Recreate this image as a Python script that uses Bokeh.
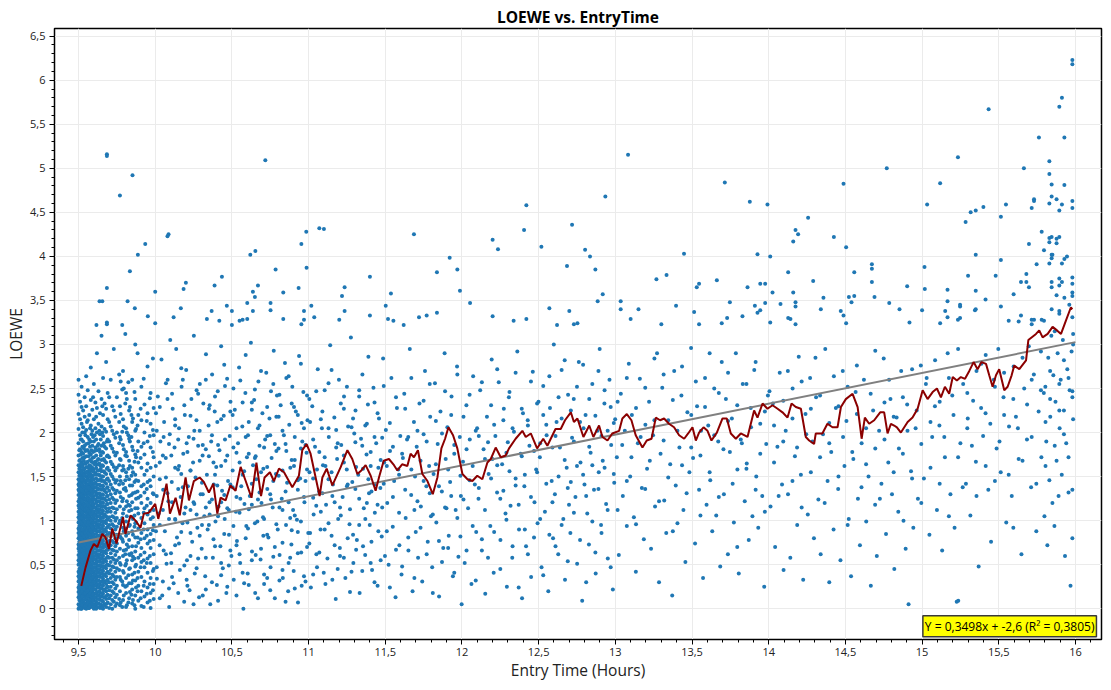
from bokeh.plotting import figure
from bokeh.models import FixedTicker, Label, Range1d
from bokeh.embed import file_html
from bokeh.resources import INLINE

# ---------------- data ----------------
# dense part of the cloud: x column -> y values
cloud_dense = {
    9.50: [0.0,0.05,0.13,0.19,0.24,0.31,0.37,0.42,0.5,0.55,0.61,0.68,0.73,0.8,0.86,0.91,0.98,1.04,1.1,1.17,1.22,1.29,1.35,1.41,1.47,1.55,1.63,1.74,1.88,2.04,2.21,2.43,2.6],
    9.51: [0.02,0.09,0.15,0.21,0.28,0.34,0.4,0.46,0.52,0.58,0.64,0.7,0.77,0.83,0.89,0.95,1.01,1.07,1.13,1.2,1.26,1.32,1.38,1.45,1.52,1.6,1.69,1.81,1.97,2.15,2.35],
    9.52: [0.0,0.07,0.11,0.17,0.26,0.32,0.39,0.44,0.51,0.57,0.63,0.69,0.75,0.82,0.87,0.94,1.0,1.06,1.12,1.18,1.25,1.31,1.37,1.43,1.5,1.57,1.66,1.78,1.92,2.1,2.29,2.52],
    9.53: [0.03,0.08,0.16,0.22,0.27,0.35,0.41,0.47,0.53,0.6,0.66,0.71,0.78,0.84,0.9,0.97,1.03,1.09,1.15,1.21,1.28,1.34,1.4,1.48,1.54,1.64,1.76,1.9,2.06,2.25],
    9.54: [0.01,0.06,0.14,0.2,0.25,0.33,0.38,0.45,0.49,0.56,0.62,0.67,0.74,0.81,0.88,0.93,0.99,1.05,1.11,1.19,1.24,1.3,1.36,1.44,1.51,1.59,1.72,1.85,2.0,2.18,2.4],
    9.55: [0.0,0.1,0.16,0.23,0.29,0.36,0.43,0.48,0.54,0.61,0.68,0.72,0.79,0.85,0.92,0.97,1.04,1.1,1.16,1.23,1.3,1.36,1.42,1.5,1.61,1.73,1.87,2.03,2.3,2.64],
    9.56: [0.04,0.09,0.18,0.24,0.31,0.37,0.44,0.51,0.57,0.63,0.7,0.76,0.82,0.89,0.95,1.01,1.08,1.14,1.21,1.27,1.34,1.41,1.48,1.56,1.67,1.8,1.95,2.14,2.48],
    9.57: [0.01,0.07,0.13,0.21,0.27,0.34,0.4,0.47,0.53,0.6,0.66,0.73,0.79,0.86,0.92,0.99,1.05,1.12,1.18,1.25,1.32,1.39,1.46,1.54,1.63,1.77,1.92,2.2],
    9.58: [0.02,0.11,0.17,0.25,0.3,0.38,0.45,0.5,0.58,0.65,0.71,0.78,0.84,0.9,0.97,1.03,1.1,1.17,1.24,1.31,1.37,1.45,1.53,1.62,1.75,1.9,2.08,2.37,2.74],
    9.59: [0.05,0.12,0.2,0.26,0.33,0.41,0.46,0.54,0.6,0.67,0.74,0.8,0.88,0.94,1.0,1.07,1.15,1.22,1.28,1.36,1.43,1.51,1.6,1.71,1.85,2.02,2.26],
    9.60: [0.0,0.09,0.17,0.26,0.35,0.42,0.51,0.6,0.68,0.77,0.85,0.93,1.02,1.1,1.19,1.28,1.37,1.47,1.58,1.72,1.9,2.15,2.55],
    9.61: [0.04,0.13,0.22,0.3,0.39,0.47,0.56,0.64,0.73,0.81,0.9,0.98,1.07,1.15,1.24,1.33,1.43,1.54,1.67,1.83,2.05,2.34],
    9.62: [0.02,0.11,0.19,0.28,0.37,0.45,0.54,0.62,0.71,0.79,0.88,0.96,1.05,1.13,1.22,1.31,1.41,1.52,1.64,1.8,2.0,2.28,2.9],
    9.63: [0.06,0.15,0.24,0.32,0.41,0.49,0.58,0.66,0.75,0.83,0.92,1.0,1.09,1.17,1.26,1.36,1.46,1.57,1.7,1.87,2.1,2.47],
    9.64: [0.01,0.1,0.18,0.27,0.36,0.44,0.53,0.61,0.7,0.78,0.87,0.95,1.04,1.12,1.21,1.3,1.4,1.51,1.63,1.78,1.98,2.22],
    9.65: [0.03,0.14,0.23,0.31,0.4,0.48,0.57,0.65,0.74,0.82,0.91,0.99,1.08,1.16,1.25,1.35,1.45,1.56,1.69,1.85,2.07,2.38,3.1],
    9.66: [0.0,0.08,0.17,0.26,0.34,0.43,0.52,0.6,0.69,0.77,0.86,0.94,1.03,1.11,1.2,1.29,1.39,1.5,1.62,1.77,1.96,2.2,2.62],
    9.67: [0.05,0.13,0.22,0.31,0.39,0.48,0.56,0.65,0.73,0.82,0.9,0.99,1.07,1.16,1.25,1.34,1.44,1.55,1.68,1.84,2.04,2.33],
    9.68: [0.02,0.11,0.2,0.28,0.37,0.46,0.54,0.63,0.71,0.8,0.88,0.97,1.05,1.14,1.23,1.32,1.42,1.53,1.66,1.82,2.01,2.27,2.8],
    9.69: [0.07,0.16,0.25,0.33,0.42,0.5,0.59,0.67,0.76,0.84,0.93,1.01,1.1,1.19,1.28,1.38,1.48,1.6,1.74,1.92,2.15,2.45],
    9.70: [0.01,0.12,0.21,0.3,0.4,0.49,0.58,0.68,0.77,0.86,0.95,1.04,1.14,1.24,1.34,1.45,1.57,1.72,1.9,2.12,2.4],
    9.71: [0.05,0.15,0.25,0.35,0.44,0.53,0.63,0.72,0.82,0.91,1.0,1.1,1.2,1.3,1.41,1.53,1.67,1.85,2.07,2.6],
    9.72: [0.0,0.1,0.2,0.3,0.39,0.48,0.58,0.67,0.77,0.86,0.96,1.05,1.15,1.26,1.37,1.5,1.64,1.82,2.02,2.3],
    9.73: [0.08,0.18,0.28,0.37,0.47,0.56,0.66,0.75,0.85,0.94,1.04,1.14,1.24,1.35,1.47,1.61,1.78,1.98,2.25,2.95],
    9.74: [0.03,0.13,0.23,0.33,0.42,0.52,0.61,0.71,0.8,0.9,1.0,1.09,1.2,1.31,1.43,1.57,1.74,1.94,2.18],
    9.75: [0.06,0.16,0.26,0.36,0.46,0.55,0.65,0.74,0.84,0.93,1.03,1.13,1.23,1.34,1.46,1.6,1.77,2.0,2.4],
    9.77: [0.04,0.2,0.36,0.52,0.68,0.84,1.0,1.16,1.32,1.5,1.7,1.95,2.3],
    9.79: [0.1,0.27,0.43,0.6,0.76,0.92,1.08,1.25,1.42,1.62,1.86,2.15,2.7],
    9.81: [0.02,0.18,0.35,0.51,0.67,0.83,0.99,1.16,1.34,1.55,1.78,2.05,2.45],
    9.83: [0.12,0.29,0.45,0.62,0.78,0.94,1.11,1.28,1.47,1.68,1.93,2.25],
    9.85: [0.06,0.22,0.39,0.55,0.71,0.88,1.04,1.21,1.4,1.6,1.84,2.12,2.6],
    9.87: [0.0,0.15,0.32,0.48,0.65,0.81,0.97,1.14,1.32,1.52,1.75,2.02,2.38,3.0],
    9.89: [0.09,0.26,0.42,0.58,0.75,0.91,1.08,1.26,1.45,1.66,1.9,2.2],
    9.91: [0.03,0.2,0.36,0.53,0.69,0.86,1.03,1.2,1.39,1.6,1.84,2.14,2.52],
    9.93: [0.14,0.31,0.47,0.64,0.8,0.97,1.14,1.32,1.52,1.75,2.0,2.32],
    9.95: [0.07,0.24,0.41,0.57,0.74,0.9,1.07,1.25,1.44,1.65,1.9,2.22,2.75],
    9.97: [0.01,0.18,0.35,0.52,0.69,0.85,1.02,1.2,1.39,1.6,1.83,2.1,2.45],
    9.99: [0.11,0.28,0.45,0.62,0.78,0.95,1.12,1.3,1.5,1.72,1.97,2.28],
}

cloud_dense_2 = {
    9.505: [0.03,0.1,0.16,0.22,0.27,0.34,0.4,0.45,0.53,0.58,0.65,0.71,0.76,0.83,0.89,0.94,1.01,1.07,1.14,1.2,1.25,1.33,1.39,1.44,1.51,1.59,1.68,1.8],
    9.515: [0.0,0.06,0.12,0.18,0.24,0.31,0.37,0.43,0.49,0.55,0.61,0.67,0.73,0.8,0.86,0.92,0.98,1.04,1.1,1.16,1.23,1.29,1.35,1.41,1.48,1.56,1.64,1.75,1.92],
    9.525: [0.04,0.09,0.14,0.2,0.29,0.35,0.42,0.47,0.54,0.59,0.66,0.72,0.78,0.85,0.9,0.96,1.03,1.09,1.15,1.22,1.27,1.34,1.4,1.46,1.53,1.61,1.71,1.84,2.0],
    9.535: [0.02,0.1,0.17,0.23,0.3,0.36,0.44,0.5,0.56,0.63,0.69,0.75,0.82,0.87,0.95,1.0,1.06,1.13,1.18,1.26,1.32,1.38,1.44,1.52,1.58,1.68,1.82],
    9.545: [0.03,0.12,0.18,0.26,0.33,0.39,0.46,0.52,0.59,0.65,0.73,0.78,0.86,0.91,0.98,1.05,1.12,1.17,1.25,1.31,1.39,1.46,1.55,1.65,1.79,1.97],
    9.555: [0.06,0.13,0.2,0.27,0.33,0.4,0.46,0.52,0.58,0.65,0.7,0.77,0.83,0.9,0.95,1.02,1.08,1.14,1.2,1.27,1.33,1.4,1.46,1.54,1.66,1.8,2.12],
    9.565: [0.01,0.07,0.15,0.21,0.28,0.34,0.41,0.48,0.54,0.6,0.67,0.73,0.79,0.86,0.92,0.98,1.05,1.11,1.17,1.24,1.31,1.38,1.45,1.52,1.6,1.73,1.88],
    9.575: [0.04,0.1,0.17,0.24,0.31,0.37,0.44,0.5,0.57,0.63,0.7,0.76,0.83,0.89,0.95,1.02,1.08,1.15,1.22,1.29,1.35,1.42,1.5,1.58,1.69,1.84,2.05],
    9.585: [0.07,0.14,0.21,0.28,0.35,0.42,0.48,0.55,0.61,0.68,0.75,0.81,0.87,0.94,1.0,1.07,1.14,1.21,1.28,1.34,1.41,1.49,1.57,1.67,1.8,1.98],
    9.595: [0.02,0.09,0.16,0.23,0.3,0.37,0.44,0.51,0.57,0.64,0.71,0.77,0.84,0.91,0.97,1.04,1.11,1.18,1.25,1.32,1.39,1.47,1.56,1.66,1.78,1.95,2.4],
    9.605: [0.05,0.13,0.22,0.31,0.39,0.47,0.56,0.64,0.73,0.81,0.89,0.98,1.06,1.15,1.24,1.33,1.42,1.52,1.64,1.79,1.97],
    9.615: [0.0,0.08,0.17,0.26,0.34,0.43,0.51,0.6,0.68,0.77,0.85,0.94,1.02,1.11,1.2,1.29,1.38,1.48,1.6,1.74,1.92,2.18],
    9.625: [0.06,0.15,0.24,0.32,0.41,0.49,0.58,0.66,0.75,0.83,0.92,1.0,1.09,1.17,1.27,1.36,1.46,1.57,1.69,1.85],
    9.635: [0.02,0.11,0.2,0.28,0.37,0.45,0.54,0.62,0.71,0.79,0.88,0.96,1.05,1.13,1.22,1.31,1.41,1.52,1.65,1.81,2.02],
    9.645: [0.05,0.14,0.23,0.31,0.4,0.49,0.57,0.66,0.74,0.83,0.91,1.0,1.08,1.17,1.26,1.36,1.47,1.59,1.74,1.92],
    9.655: [0.01,0.09,0.18,0.27,0.36,0.44,0.53,0.61,0.7,0.78,0.87,0.95,1.04,1.12,1.21,1.3,1.4,1.5,1.63,1.78,2.0,2.3],
    9.665: [0.04,0.13,0.21,0.3,0.39,0.47,0.56,0.64,0.73,0.81,0.9,0.98,1.07,1.16,1.25,1.35,1.45,1.56,1.7,1.88],
    9.685: [0.06,0.15,0.24,0.32,0.41,0.5,0.58,0.67,0.75,0.84,0.92,1.01,1.1,1.19,1.28,1.37,1.47,1.59,1.73,1.9],
    9.765: [0.11,0.44,0.58,0.97,1.41,1.63,1.88,2.12,2.66],
    9.775: [0.07,0.33,0.5,0.81,0.99,1.27,1.45,1.69,1.92,2.21,2.58],
    9.785: [0.02,0.31,0.79,1.03,1.22,1.57,2.01,2.49],
    9.795: [0.15,0.41,0.66,0.88,1.13,1.36,1.58,1.81,2.07,2.5],
    9.805: [0.25,0.49,0.62,0.91,1.37,1.46,1.74,2.33,3.12],
    9.815: [0.04,0.26,0.55,0.73,1.05,1.22,1.5,1.73,2.0,2.38],
    9.825: [0.07,0.38,0.7,0.86,1.18,1.59,1.97,2.57],
    9.835: [0.19,0.46,0.61,0.95,1.17,1.4,1.62,1.9,2.29],
    9.845: [0.16,0.29,0.63,1.12,1.29,1.51,1.95,2.2],
    9.855: [0.1,0.32,0.59,0.84,1.02,1.31,1.55,1.8,2.16],
    9.865: [0.04,0.41,0.57,0.93,1.06,1.44,1.67,2.46],
    9.875: [0.24,0.5,0.71,0.98,1.25,1.46,1.72,2.04],
    9.885: [0.2,0.35,0.81,1.14,1.33,1.79,2.08,2.9],
    9.905: [0.12,0.47,0.61,0.79,1.28,1.71,2.27],
    9.925: [0.02,0.26,0.55,0.9,1.09,1.41,1.88,2.61],
    9.945: [0.17,0.52,0.83,1.17,1.36,1.57,2.13],
    9.965: [0.09,0.28,0.6,0.77,1.11,1.46,1.96,2.39],
    9.985: [0.21,0.43,0.89,1.04,1.31,1.78,2.03,2.84],
}

cloud_cols_10_13 = {
    10.01: [0.47,1.28,2.02], 10.03: [0.95,1.66,2.29], 10.05: [0.31,1.12,1.74], 10.07: [0.62,1.49,2.56], 10.09: [1.02,1.87,0.23],
    10.11: [0.36,1.21,2.44], 10.13: [0.72,1.6,2.08], 10.15: [0.18,1.36,1.92], 10.17: [0.87,1.53,2.73], 10.19: [0.49,1.08,2.31],
    10.21: [0.26,0.98,1.78], 10.23: [0.6,1.57,2.19], 10.25: [1.21,1.93,0.05], 10.27: [0.46,1.07,2.48], 10.29: [0.83,1.68,2.02],
    10.31: [0.15,1.3,1.86], 10.33: [0.58,1.15,2.6], 10.35: [0.95,1.73,2.27], 10.37: [0.3,1.24,1.97], 10.39: [0.71,1.52,2.41],
    10.41: [0.09,1.05,1.86], 10.43: [0.52,1.62,2.15], 10.45: [0.85,1.29,2.77], 10.47: [0.25,1.14,1.74], 10.49: [0.66,1.41,2.24],
    10.51: [0.94,1.83,2.5], 10.53: [0.15,1.27,2.05], 10.55: [0.62,1.09,1.66], 10.57: [0.41,1.52,2.34], 10.59: [0.8,1.95,2.88],
    10.61: [0.27,1.13,1.76], 10.63: [0.55,1.42,2.26], 10.65: [0.97,1.71,2.49], 10.67: [0.12,1.24,2.05], 10.69: [0.68,1.55,2.7],
    10.71: [0.39,1.02,1.83], 10.73: [0.84,1.61,2.29], 10.75: [0.21,1.3,1.97], 10.77: [0.59,1.45,2.55], 10.79: [0.96,1.79,2.18],
    10.81: [0.32,1.15,2.43], 10.83: [0.75,1.57,2.02], 10.85: [0.08,1.33,1.87], 10.87: [0.52,1.21,2.64], 10.89: [0.89,1.69,2.33],
    10.91: [0.23,1.06,1.95], 10.93: [0.63,1.46,2.2], 10.95: [0.99,1.82,2.78], 10.97: [0.37,1.27,2.05], 10.99: [0.7,1.58,2.42],
    11.01: [0.86,2.12], 11.03: [1.48,0.39], 11.05: [1.17,2.47], 11.07: [0.64,1.78], 11.09: [1.31,2.24],
    11.11: [0.28,1.62], 11.13: [0.97,2.05], 11.15: [1.55,2.71], 11.17: [0.72,1.21], 11.19: [1.88,0.45],
    11.21: [1.06,2.33], 11.23: [0.58,1.74], 11.25: [1.39,2.52], 11.27: [0.19,1.13], 11.29: [0.84,2.16],
    11.31: [1.61,0.67], 11.33: [1.25,2.41], 11.35: [0.43,1.85], 11.37: [1.02,2.08], 11.39: [1.47,2.86],
    11.41: [0.76,1.33], 11.43: [1.95,0.3], 11.45: [1.18,2.22], 11.47: [0.55,1.69], 11.49: [1.42,2.53],
    11.51: [0.88,1.62], 11.53: [0.24,2.11], 11.55: [1.27,1.84], 11.57: [0.67,2.4], 11.59: [1.09,1.52],
    11.61: [1.76,0.48], 11.63: [1.35,2.27], 11.65: [0.81,1.95], 11.67: [1.58,2.62], 11.69: [0.35,1.12],
    11.71: [1.22,2.02], 11.73: [0.92,1.68], 11.75: [1.45,2.36], 11.77: [0.62,1.9], 11.79: [1.31,2.55],
    11.81: [0.18,1.07], 11.83: [1.64,2.13], 11.85: [0.77,1.39], 11.87: [1.99,0.53], 11.89: [1.15,2.47],
    11.91: [0.69,1.58], 11.93: [1.28,2.2], 11.95: [0.41,1.86], 11.97: [1.03,2.66], 11.99: [1.51,0.82],
    12.01: [1.24,2.18], 12.03: [0.66,1.81], 12.05: [1.46,2.43], 12.07: [0.94,1.62], 12.09: [0.32,2.02],
    12.11: [1.37,1.96], 12.13: [0.79,2.57], 12.15: [1.12,1.7], 12.17: [1.89,0.58], 12.19: [1.48,2.31],
    12.21: [0.87,2.09], 12.23: [1.63,2.72], 12.25: [0.45,1.25], 12.27: [1.34,2.14], 12.29: [1.01,1.77],
    12.31: [1.56,2.46], 12.33: [0.71,2.05], 12.35: [1.4,2.68], 12.37: [0.24,1.18], 12.39: [1.73,2.27],
    12.41: [0.9,1.52], 12.43: [2.08,0.62], 12.45: [1.27,2.58], 12.47: [0.81,1.79], 12.49: [1.55,2.33],
    12.51: [1.02,1.88], 12.53: [0.38,2.2], 12.55: [1.42,2.09], 12.57: [0.84,2.64], 12.59: [1.21,1.83],
    12.61: [1.96,0.71], 12.63: [1.5,2.4], 12.65: [0.95,2.16], 12.67: [1.69,2.82], 12.69: [0.54,1.37],
    12.71: [1.44,2.25], 12.73: [1.09,1.9], 12.75: [1.62,2.52], 12.77: [0.78,2.12], 12.79: [1.52,2.77],
    12.81: [0.3,1.28], 12.83: [1.84,2.38], 12.85: [0.99,1.63], 12.87: [2.19,0.64], 12.89: [1.36,2.7],
    12.91: [0.86,1.96], 12.93: [1.6,2.48], 12.95: [1.12,2.02], 12.97: [0.47,2.29], 12.99: [1.53,2.11],
}

cloud_cols_10_11b = {
    10.005: [0.88,2.22], 10.030: [0.12,1.47], 10.055: [1.95,0.66], 10.080: [1.31,2.38], 10.105: [0.52,1.74],
    10.130: [2.15,1.02], 10.155: [0.74,1.62], 10.180: [1.38,2.6], 10.205: [0.33,1.88], 10.230: [1.57,0.86],
    10.255: [2.02,1.19], 10.280: [0.57,2.44], 10.305: [1.43,0.95], 10.330: [1.81,0.22], 10.355: [1.07,2.31],
    10.380: [0.79,1.66], 10.405: [2.12,1.4], 10.430: [0.38,1.21], 10.455: [1.92,2.53], 10.480: [1.12,0.49],
    10.505: [2.2,1.38], 10.530: [0.72,1.77], 10.555: [1.25,2.59], 10.580: [0.29,1.56], 10.605: [1.97,0.91],
    10.630: [1.18,2.34], 10.655: [0.61,1.73], 10.680: [2.08,1.32], 10.705: [0.83,1.59], 10.730: [1.96,0.35],
    10.755: [1.24,2.47], 10.780: [0.7,1.87], 10.805: [1.51,2.18], 10.830: [0.44,1.12], 10.855: [1.79,2.62],
    10.880: [1.03,0.58], 10.905: [1.62,2.29], 10.930: [0.87,1.35], 10.955: [2.11,0.26], 10.980: [1.45,1.86],
    11.005: [0.74,2.38], 11.030: [1.26,1.92], 11.055: [0.47,1.58], 11.080: [2.15,1.1], 11.105: [0.9,1.72],
    11.130: [1.47,2.56], 11.155: [0.33,1.28], 11.180: [1.83,2.03], 11.205: [1.15,0.6], 11.230: [1.66,2.27],
    11.255: [0.8,1.41], 11.280: [2.06,0.42], 11.305: [1.36,1.89], 11.330: [0.95,2.48], 11.355: [1.59,0.71],
    11.380: [1.2,2.1], 11.405: [0.52,1.78], 11.430: [1.41,2.34], 11.455: [0.88,1.6], 11.480: [1.94,1.15],
}

cloud_cols_13_16 = {
    13.015: [2.35,1.12], 13.045: [1.86], 13.075: [2.62,1.45], 13.105: [1.72], 13.135: [2.28,0.96],
    13.165: [1.95], 13.195: [2.51,1.36], 13.225: [1.68], 13.255: [2.14,2.84], 13.285: [1.22],
    13.315: [1.91,2.66], 13.345: [1.49], 13.375: [2.37,0.88], 13.405: [2.02], 13.435: [1.63,2.75],
    13.465: [1.31], 13.495: [2.2,1.83], 13.525: [2.58], 13.555: [1.06,1.74], 13.585: [2.29],
    13.615: [1.55,2.9], 13.645: [1.97], 13.675: [2.45,1.27], 13.705: [1.81], 13.735: [2.13,2.68],
    13.765: [1.42], 13.795: [2.31,0.7], 13.825: [1.88], 13.855: [2.55,1.59], 13.885: [2.06],
    13.915: [1.35,2.8], 13.945: [1.76], 13.975: [2.24,1.1], 14.005: [2.47], 14.035: [1.66,2.08],
    14.065: [1.28], 14.095: [2.36,1.9], 14.125: [2.7], 14.155: [1.45,2.16], 14.185: [1.83],
    14.215: [2.58,1.15], 14.245: [1.98], 14.275: [2.27,1.55], 14.305: [2.85], 14.335: [1.72,2.42],
    14.365: [1.2], 14.395: [2.11,1.88], 14.425: [2.64], 14.455: [1.5,2.3], 14.485: [1.95],
    14.515: [2.52,0.95], 14.545: [1.78], 14.575: [2.21,2.76], 14.605: [1.38], 14.635: [2.05,1.64],
    14.665: [2.44], 14.695: [1.82,2.93], 14.725: [1.25], 14.755: [2.34,1.92], 14.785: [2.6],
    14.815: [1.55,2.18], 14.845: [1.1], 14.875: [2.4,1.76], 14.905: [2.02], 14.935: [1.48,2.72],
    14.965: [2.25], 14.995: [1.87,1.2], 15.025: [2.55], 15.055: [2.12,1.6], 15.085: [2.82],
    15.115: [1.42,2.35], 15.145: [1.95], 15.175: [2.62,1.05], 15.205: [2.2], 15.235: [1.72,2.95],
    15.265: [1.38], 15.295: [2.45,2.05], 15.325: [1.85], 15.355: [2.7,1.28], 15.385: [2.28],
    15.415: [1.62,2.88], 15.445: [2.1], 15.475: [2.52,1.45], 15.505: [1.9], 15.535: [2.68,2.2],
    15.565: [1.52], 15.595: [2.38,0.92], 15.625: [2.05], 15.655: [2.85,1.68], 15.685: [2.32],
    15.715: [1.95,2.6], 15.745: [1.42], 15.775: [2.48,2.92], 15.805: [2.12,1.62], 15.835: [2.7,2.38],
    15.865: [1.85,3.15], 15.895: [2.55,2.25], 15.925: [1.98,2.82], 15.955: [2.62,1.72], 15.985: [2.15,3.0,3.12],
}

cloud_10_11 = [
    (10.004,1.62),(10.011,0.34),(10.017,2.41),(10.023,1.08),(10.029,0.72),(10.034,1.9),(10.041,2.83),(10.046,0.15),(10.052,1.35),(10.058,2.12),(10.063,0.88),(10.069,1.71),(10.074,0.51),(10.081,2.6),(10.086,1.22),(10.091,0.02),(10.095,1.98),(10.098,3.05),
    (10.103,0.63),(10.108,1.44),(10.114,2.27),(10.12,0.29),(10.126,1.83),(10.131,1.01),(10.137,2.95),(10.142,0.81),(10.149,1.58),(10.155,2.05),(10.161,0.44),(10.166,1.27),(10.172,2.52),(10.178,0.97),(10.183,1.76),(10.189,0.08),(10.193,2.2),(10.198,1.15),
    (10.202,2.71),(10.207,0.55),(10.213,1.39),(10.219,1.95),(10.224,0.21),(10.23,1.12),(10.236,2.38),(10.241,0.76),(10.247,1.66),(10.252,3.1),(10.258,0.4),(10.263,1.49),(10.269,2.14),(10.275,0.92),(10.28,1.85),(10.286,0.13),(10.291,2.55),(10.296,1.3),
    (10.303,0.68),(10.309,1.74),(10.314,2.33),(10.32,1.05),(10.326,0.37),(10.331,2.89),(10.337,1.52),(10.342,0.9),(10.348,2.08),(10.354,1.21),(10.359,0.05),(10.365,1.9),(10.371,2.66),(10.376,0.58),(10.382,1.41),(10.388,2.24),(10.393,0.99),(10.398,1.61),
    (10.402,0.27),(10.408,2.47),(10.413,1.16),(10.419,1.8),(10.425,0.71),(10.43,2.98),(10.436,1.34),(10.441,0.46),(10.447,2.19),(10.453,1.02),(10.458,1.68),(10.464,0.18),(10.469,2.61),(10.475,1.45),(10.481,0.84),(10.486,1.96),(10.491,2.35),(10.497,0.6),
    (10.505,1.57),(10.512,0.33),(10.519,2.26),(10.526,1.1),(10.533,0.77),(10.54,1.88),(10.547,2.74),(10.554,0.52),(10.561,1.39),(10.568,2.07),(10.575,0.0),(10.582,1.19),(10.588,2.45),(10.594,0.94),(10.598,1.72),
    (10.603,0.4),(10.61,2.12),(10.617,1.28),(10.624,3.02),(10.631,0.65),(10.638,1.63),(10.645,2.37),(10.652,0.18),(10.659,1.47),(10.666,0.99),(10.673,2.58),(10.68,1.85),(10.687,0.56),(10.693,1.2),(10.699,2.22),
    (10.703,1.04),(10.71,0.28),(10.717,1.92),(10.724,2.68),(10.731,1.36),(10.738,0.81),(10.745,2.16),(10.752,0.47),(10.759,1.71),(10.766,1.15),(10.773,2.93),(10.78,0.12),(10.787,1.53),(10.794,2.42),(10.799,0.9),
    (10.804,1.82),(10.811,0.61),(10.818,2.31),(10.825,1.25),(10.832,0.35),(10.839,1.97),(10.846,2.79),(10.853,0.95),(10.86,1.43),(10.867,0.2),(10.874,2.09),(10.881,1.6),(10.888,0.73),(10.894,2.52),(10.899,1.12),
    (10.903,0.43),(10.91,1.69),(10.917,2.24),(10.924,1.01),(10.931,0.07),(10.938,2.87),(10.945,1.48),(10.952,0.64),(10.959,1.9),(10.966,2.46),(10.973,1.21),(10.98,0.31),(10.987,1.77),(10.993,2.14),(10.998,0.86),
]

cloud_11_13 = [
    (11.006,1.55),(11.015,0.24),(11.024,2.3),(11.033,1.07),(11.042,1.84),(11.051,0.62),(11.06,2.72),(11.069,1.33),(11.078,0.9),(11.087,2.05),(11.094,1.63),(11.099,0.41),
    (11.105,2.48),(11.114,1.18),(11.123,0.57),(11.132,1.95),(11.141,2.99),(11.15,0.83),(11.159,1.41),(11.168,2.17),(11.177,0.11),(11.186,1.7),(11.193,1.02),(11.198,2.6),
    (11.204,0.69),(11.213,1.86),(11.222,1.27),(11.231,2.41),(11.24,0.35),(11.249,1.58),(11.258,2.07),(11.267,0.96),(11.276,3.08),(11.285,1.44),(11.292,0.52),(11.298,1.99),
    (11.306,2.25),(11.315,0.78),(11.324,1.52),(11.333,0.18),(11.342,1.93),(11.351,2.66),(11.36,1.14),(11.369,0.61),(11.378,1.75),(11.387,2.32),(11.394,1.31),(11.399,0.95),
    (11.405,1.62),(11.414,0.44),(11.423,2.51),(11.432,1.09),(11.441,1.88),(11.45,0.26),(11.459,2.16),(11.468,1.37),(11.477,0.82),(11.486,2.84),(11.493,1.66),(11.498,0.6),
    (11.504,2.03),(11.513,1.2),(11.522,0.5),(11.531,1.79),(11.54,2.62),(11.549,0.93),(11.558,1.45),(11.567,0.13),(11.576,2.28),(11.585,1.58),(11.592,0.72),(11.598,1.96),
    (11.606,0.39),(11.615,1.71),(11.624,2.44),(11.633,1.03),(11.642,1.92),(11.651,0.66),(11.66,2.95),(11.669,1.29),(11.678,0.2),(11.687,2.12),(11.694,1.5),(11.699,0.87),
    (11.705,1.84),(11.714,0.58),(11.723,2.33),(11.732,1.16),(11.741,0.31),(11.75,1.98),(11.759,2.7),(11.768,1.39),(11.777,0.76),(11.786,1.62),(11.793,2.18),(11.798,1.05),
    (11.806,0.47),(11.815,1.53),(11.824,2.56),(11.833,0.98),(11.842,1.87),(11.851,0.14),(11.86,2.24),(11.869,1.33),(11.878,0.69),(11.887,2.9),(11.894,1.7),(11.899,1.14),
    (11.905,2.06),(11.914,0.83),(11.923,1.44),(11.932,2.41),(11.941,0.37),(11.95,1.76),(11.959,1.12),(11.968,2.75),(11.977,0.59),(11.986,1.95),(11.993,1.28),(11.998,0.05),
    (12.007,1.67),(12.018,0.52),(12.029,2.31),(12.04,1.14),(12.051,1.92),(12.062,0.28),(12.073,2.64),(12.084,1.41),(12.093,0.87),(12.099,2.05),
    (12.108,1.25),(12.119,2.48),(12.13,0.66),(12.141,1.81),(12.152,0.17),(12.163,2.18),(12.174,1.53),(12.185,0.94),(12.194,2.83),(12.199,1.7),
    (12.207,0.41),(12.218,1.96),(12.229,1.32),(12.24,2.57),(12.251,0.78),(12.262,1.64),(12.273,2.27),(12.284,1.08),(12.293,0.25),(12.299,1.89),
    (12.306,2.4),(12.317,1.17),(12.328,0.58),(12.339,2.01),(12.35,1.48),(12.361,2.92),(12.372,0.9),(12.383,1.76),(12.392,0.12),(12.398,2.22),
    (12.407,1.39),(12.418,0.71),(12.429,2.14),(12.44,1.85),(12.451,0.36),(12.462,2.69),(12.473,1.21),(12.484,1.58),(12.493,0.97),(12.499,2.35),
    (12.508,1.72),(12.519,0.47),(12.53,2.53),(12.541,1.1),(12.552,1.97),(12.563,0.2),(12.574,2.28),(12.585,1.45),(12.594,0.8),(12.599,3.0),
    (12.606,1.3),(12.617,2.12),(12.628,0.62),(12.639,1.83),(12.65,2.71),(12.661,1.02),(12.672,0.33),(12.683,1.6),(12.692,2.43),(12.698,1.18),
    (12.707,0.86),(12.718,1.94),(12.729,2.38),(12.74,1.27),(12.751,0.51),(12.762,2.8),(12.773,1.66),(12.784,0.09),(12.793,2.05),(12.799,1.41),
    (12.806,2.2),(12.817,1.08),(12.828,0.73),(12.839,1.77),(12.85,2.55),(12.861,1.35),(12.872,0.4),(12.883,2.02),(12.892,1.55),(12.898,2.95),
    (12.907,0.95),(12.918,1.68),(12.929,2.33),(12.94,1.19),(12.951,0.57),(12.962,2.6),(12.973,1.86),(12.984,0.22),(12.993,1.43),(12.999,2.15),
]

cloud_13_16 = [
    (13.01,1.72),(13.023,0.61),(13.036,2.44),(13.049,1.28),(13.062,2.02),(13.075,0.94),(13.088,2.78),(13.097,1.5),
    (13.108,2.2),(13.121,1.04),(13.134,0.42),(13.147,1.88),(13.16,2.61),(13.173,1.37),(13.186,0.79),(13.196,2.09),
    (13.207,1.59),(13.22,2.35),(13.233,0.68),(13.246,1.97),(13.259,1.16),(13.272,2.9),(13.285,0.3),(13.295,1.76),
    (13.306,2.51),(13.319,1.23),(13.332,0.86),(13.345,2.14),(13.358,1.64),(13.371,0.15),(13.384,2.7),(13.394,1.4),
    (13.405,0.97),(13.418,1.83),(13.431,2.42),(13.444,1.12),(13.457,0.53),(13.47,2.23),(13.483,1.55),(13.494,2.96),
    (13.507,1.71),(13.52,0.74),(13.533,2.3),(13.546,1.35),(13.559,2.02),(13.572,0.35),(13.585,2.62),(13.595,1.18),
    (13.606,2.08),(13.619,1.46),(13.632,0.88),(13.645,2.5),(13.658,1.06),(13.671,1.9),(13.684,0.48),(13.694,2.8),
    (13.708,1.3),(13.721,2.38),(13.734,0.62),(13.747,1.78),(13.76,2.16),(13.773,0.98),(13.786,2.9),(13.796,1.58),
    (13.805,0.4),(13.818,1.92),(13.831,2.55),(13.844,1.22),(13.857,1.65),(13.87,0.78),(13.883,2.28),(13.894,1.05),
    (13.906,2.71),(13.919,1.5),(13.932,0.92),(13.945,2.1),(13.958,1.28),(13.971,0.25),(13.984,1.87),(13.995,2.42),
    (14.012,1.16),(14.027,2.33),(14.042,0.7),(14.057,1.84),(14.072,2.68),(14.087,1.41),(14.097,0.44),
    (14.111,2.02),(14.126,1.3),(14.141,0.58),(14.156,2.5),(14.171,1.73),(14.186,0.95),(14.196,2.86),
    (14.21,1.52),(14.225,0.33),(14.24,2.21),(14.255,1.07),(14.27,2.62),(14.285,1.9),(14.295,0.8),
    (14.309,2.4),(14.324,1.24),(14.339,0.62),(14.354,1.98),(14.369,2.95),(14.384,1.45),(14.395,0.3),
    (14.408,1.78),(14.423,0.9),(14.438,2.28),(14.453,1.36),(14.468,0.55),(14.483,2.7),(14.494,1.62),
    (14.507,2.13),(14.522,1.02),(14.537,0.37),(14.552,1.7),(14.567,2.46),(14.582,1.25),(14.595,0.72),
    (14.606,1.88),(14.621,2.6),(14.636,0.99),(14.651,1.5),(14.666,0.26),(14.681,2.25),(14.694,1.18),
    (14.705,0.6),(14.72,2.02),(14.735,1.42),(14.75,2.84),(14.765,0.85),(14.78,1.66),(14.794,2.38),
    (14.804,1.3),(14.819,0.45),(14.834,2.17),(14.849,1.82),(14.864,2.7),(14.879,1.0),(14.893,0.68),
    (14.903,2.32),(14.912,0.05),(14.928,1.56),(14.943,0.92),(14.958,2.05),(14.973,1.25),(14.992,2.76),
    (15.012,1.48),(15.03,2.62),(15.048,0.84),(15.066,1.95),(15.084,2.3),(15.097,1.12),
    (15.113,2.08),(15.131,0.66),(15.149,1.72),(15.167,2.9),(15.185,1.3),(15.197,2.42),
    (15.212,0.92),(15.226,0.08),(15.236,0.09),(15.25,1.88),(15.268,2.55),(15.286,1.42),(15.298,2.16),
    (15.315,1.06),(15.333,2.36),(15.351,1.67),(15.369,0.48),(15.387,2.78),(15.398,1.96),
    (15.414,2.22),(15.432,1.35),(15.45,0.76),(15.468,2.6),(15.486,1.82),(15.497,2.95),
    (15.513,1.55),(15.531,2.4),(15.549,0.98),(15.567,2.07),(15.585,1.28),(15.597,2.75),
    (15.612,2.18),(15.63,1.7),(15.648,0.62),(15.666,2.5),(15.684,1.92),(15.696,2.98),
    (15.711,1.38),(15.729,2.66),(15.745,0.88),(15.76,2.24),(15.778,1.72),(15.794,2.45),(15.798,1.05),
    (15.804,2.52),(15.81,1.9),(15.817,0.72),(15.823,2.85),(15.83,1.46),(15.836,2.18),(15.843,3.1),(15.85,1.2),(15.856,2.65),(15.863,0.94),(15.87,2.35),(15.877,1.68),(15.884,2.9),(15.89,1.28),(15.897,2.05),
    (15.904,2.6),(15.911,1.52),(15.918,3.05),(15.925,2.25),(15.932,0.6),(15.94,1.88),(15.947,2.72),(15.955,1.32),(15.962,2.48),(15.968,0.26),(15.975,2.92),(15.98,0.8),(15.98,1.35),(15.98,2.4),(15.98,2.47),
]

cloud_high_left = [
    (9.685,5.16),(9.685,5.14),(9.852,4.92),(9.77,4.69),(10.718,5.09),(12.42,4.58),(12.718,4.36),(11.07,4.32),(11.10,4.31),(10.985,4.28),
    (11.687,4.25),(10.087,4.25),(10.08,4.23),(12.20,4.19),(12.405,4.30),(12.235,4.08),(12.518,4.11),(10.953,4.14),(9.935,4.14),(10.653,4.06),
    (10.62,4.02),(9.887,4.02),(11.92,3.985),(12.685,3.89),(11.97,3.85),(10.987,3.87),(10.785,3.85),(9.835,3.83),(11.837,3.82),(10.435,3.77),
    (11.40,3.77),(9.685,3.64),(10.20,3.70),(10.387,3.67),(10.67,3.67),(11.235,3.65),(10.185,3.63),(10.935,3.64),(11.987,3.61),(10.0,3.60),
    (10.835,3.59),(10.637,3.60),(11.537,3.58),(11.218,3.55),(10.65,3.54),(9.637,3.49),(9.655,3.49),(9.82,3.49),(12.053,3.47),(10.60,3.47),
    (10.752,3.47),(11.503,3.44),(11.018,3.44),(10.467,3.44),(9.867,3.41),(10.167,3.41),(12.57,3.41),(10.752,3.39),(10.50,3.38),(10.368,3.38),
    (10.637,3.38),(10.97,3.38),(11.235,3.38),(12.70,3.38),(11.837,3.36),(11.40,3.33),(11.77,3.33),(11.72,3.31),(12.20,3.32),(9.952,3.32),
    (10.12,3.31),(11.037,3.31),(10.337,3.29),(12.42,3.29),(11.518,3.29),(10.835,3.29),(10.60,3.29),(10.97,3.28),(10.57,3.28),(10.55,3.27),
    (10.418,3.27),(11.20,3.28),(12.337,3.27),(11.553,3.27),(9.685,3.25),(9.685,3.23),(10.0,3.24),(10.953,3.23),(11.62,3.22),(10.50,3.22),
    (12.62,3.22),(12.73,3.23),(9.785,3.22),(9.617,3.22),
]

cloud_high_right = [
    (15.98,6.23),(15.98,6.18),(15.912,5.80),(15.895,5.70),(15.434,5.67),(15.762,5.35),(15.928,5.35),(15.234,5.125),(13.083,5.155),(15.83,5.08),
    (14.77,5.00),(15.664,5.00),(15.83,4.935),(13.714,4.84),(14.488,4.825),(15.118,4.83),(15.845,4.815),(15.928,4.81),(12.935,4.68),(15.845,4.68),
    (15.73,4.65),(15.73,4.63),(15.877,4.65),(15.98,4.63),(13.877,4.62),(13.992,4.59),(15.033,4.59),(15.547,4.59),(15.83,4.60),(15.912,4.59),
    (15.40,4.56),(15.715,4.55),(15.98,4.55),(15.35,4.52),(15.317,4.50),(15.895,4.52),(15.514,4.45),(14.257,4.44),(15.284,4.39),(14.175,4.30),
    (15.78,4.28),(14.192,4.25),(14.425,4.22),(15.845,4.22),(15.895,4.22),(15.83,4.21),(15.877,4.20),(14.16,4.17),(15.83,4.16),(15.877,4.15),
    (15.697,4.14),(12.803,4.075),(14.505,4.105),(15.795,4.07),(12.835,4.00),(13.448,4.03),(13.927,4.025),(14.01,4.0),(15.35,4.02),(15.845,4.02),
    (15.85,4.02),(15.945,4.0),(15.845,3.98),(15.928,3.97),(15.514,3.96),(14.673,3.91),(15.747,3.91),(15.83,3.92),(15.912,3.92),(14.673,3.86),
    (12.87,3.85),(15.016,3.88),(14.127,3.82),(14.558,3.82),(15.68,3.80),(15.30,3.78),(15.48,3.78),(15.98,3.76),(13.268,3.74),(13.334,3.79),
    (13.662,3.73),(14.29,3.72),(15.645,3.71),(15.68,3.71),(15.845,3.71),(15.895,3.75),(15.912,3.71),(15.98,3.69),(14.673,3.71),(13.546,3.69),
    (13.945,3.69),(13.977,3.69),(15.697,3.65),(15.845,3.65),(15.895,3.67),(13.531,3.65),(13.862,3.65),(14.903,3.66),(15.018,3.63),(15.166,3.62),
    (12.918,3.57),(14.025,3.59),(14.16,3.59),(15.35,3.61),(15.597,3.57),(15.98,3.59),(15.98,3.55),(15.877,3.56),(15.928,3.53),(14.357,3.53),
    (14.523,3.54),(14.558,3.55),(14.69,3.54),(15.414,3.51),(12.885,3.49),(13.035,3.49),(13.747,3.48),(13.977,3.47),(14.175,3.48),(14.54,3.48),
    (15.166,3.49),(14.786,3.47),(14.077,3.46),(15.248,3.45),(15.248,3.43),(13.91,3.44),(14.175,3.43),(15.96,3.45),(15.514,3.43),(13.035,3.40),
    (13.151,3.40),(14.34,3.40),(14.853,3.40),(15.35,3.40),(15.345,3.39),(15.845,3.40),(13.396,3.44),(13.945,3.39),(15.0,3.39),(15.151,3.38),
    (14.47,3.38),(13.514,3.37),(13.927,3.36),(15.895,3.38),(15.895,3.35),(14.488,3.33),(15.645,3.33),(13.829,3.32),(15.166,3.31),(15.248,3.30),
    (15.98,3.31),(13.729,3.30),(14.127,3.30),(13.10,3.29),(14.142,3.29),(15.715,3.28),(15.73,3.28),(15.78,3.28),(15.234,3.28),(15.565,3.27),
    (15.63,3.26),(15.795,3.27),(12.753,3.24),(13.694,3.24),(14.01,3.25),(14.505,3.24),(14.918,3.25),(15.118,3.24),(13.546,3.23),(13.30,3.23),
    (14.175,3.23),(15.715,3.23),
]

# moving average (dark red line)
ma_x = [9.518,9.546,9.578,9.60,9.622,9.655,9.676,9.698,9.72,9.748,9.79,9.806,9.839,9.872,9.904,9.926,9.958,10.0,10.02,10.046,
        10.074,10.096,10.133,10.16,10.198,10.22,10.252,10.29,10.317,10.35,10.379,10.405,10.426,10.459,10.49,10.524,10.557,10.59,10.628,10.66,
        10.69,10.713,10.748,10.774,10.807,10.84,10.894,10.937,10.959,10.987,11.013,11.046,11.072,11.09,11.118,11.155,11.21,11.253,11.285,11.318,
        11.344,11.372,11.405,11.437,11.459,11.49,11.524,11.557,11.579,11.61,11.644,11.665,11.687,11.713,11.742,11.775,11.81,11.84,11.866,11.89,
        11.912,11.942,11.97,12.003,12.036,12.068,12.10,12.133,12.166,12.188,12.22,12.253,12.285,12.307,12.35,12.394,12.416,12.449,12.49,12.53,
        12.557,12.61,12.644,12.672,12.71,12.73,12.753,12.792,12.83,12.857,12.894,12.916,12.949,12.98,13.025,13.046,13.075,13.105,13.133,13.177,
        13.205,13.236,13.264,13.292,13.318,13.35,13.383,13.416,13.449,13.475,13.503,13.525,13.546,13.575,13.601,13.627,13.662,13.699,13.727,13.753,
        13.786,13.818,13.862,13.905,13.927,13.96,13.992,14.025,14.058,14.09,14.123,14.149,14.177,14.21,14.242,14.264,14.296,14.307,14.35,14.383,
        14.416,14.449,14.471,14.503,14.547,14.58,14.606,14.627,14.655,14.688,14.727,14.753,14.775,14.797,14.818,14.836,14.862,14.884,14.906,14.938,
        14.971,15.004,15.036,15.069,15.097,15.123,15.149,15.177,15.2,15.227,15.253,15.28,15.308,15.336,15.362,15.388,15.417,15.438,15.46,15.482,
        15.503,15.536,15.558,15.584,15.601,15.634,15.678,15.693,15.714,15.743,15.764,15.786,15.819,15.851,15.88,15.906,15.938,15.97,15.98]
ma_y = [0.26,0.47,0.66,0.735,0.70,0.85,0.81,0.68,0.91,0.74,1.04,0.85,1.06,1.00,0.92,1.08,1.09,1.19,1.02,1.21,
        1.42,1.08,1.26,1.06,1.49,1.23,1.45,1.49,1.44,1.32,1.42,1.08,1.26,1.23,1.40,1.34,1.61,1.45,1.26,1.66,
        1.28,1.49,1.55,1.45,1.59,1.55,1.38,1.51,1.80,1.87,1.76,1.49,1.28,1.49,1.59,1.40,1.61,1.80,1.70,1.53,
        1.57,1.63,1.51,1.34,1.49,1.68,1.70,1.63,1.57,1.64,1.62,1.76,1.72,1.80,1.53,1.45,1.30,1.49,1.82,1.93,
        2.06,1.97,1.82,1.53,1.47,1.45,1.51,1.47,1.66,1.70,1.83,1.72,1.74,1.82,1.93,2.02,1.95,1.99,1.82,1.93,
        1.85,2.04,2.04,2.14,2.23,2.12,2.16,1.95,2.08,1.95,2.08,1.95,1.91,1.99,2.02,2.16,2.21,2.14,1.97,1.83,
        1.91,1.93,2.17,2.14,2.16,2.10,2.06,1.97,1.93,1.99,2.06,1.91,2.00,2.06,2.02,1.91,2.00,2.16,2.16,1.99,
        1.93,1.99,1.95,2.25,2.17,2.33,2.27,2.31,2.27,2.23,2.17,2.33,2.29,2.27,1.95,1.91,1.87,1.99,1.99,2.10,
        2.06,2.06,2.29,2.38,2.44,2.29,1.93,2.17,2.10,2.14,2.23,2.23,1.99,2.10,2.08,2.06,2.00,2.06,2.12,2.17,
        2.27,2.48,2.38,2.46,2.50,2.40,2.52,2.44,2.63,2.59,2.63,2.61,2.70,2.80,2.72,2.80,2.78,2.65,2.52,2.65,
        2.72,2.48,2.52,2.65,2.76,2.72,2.82,3.05,3.08,3.12,3.16,3.08,3.12,3.20,3.16,3.12,3.27,3.42,3.40]

# linear fit (grey line)
fit_slope = 0.3498
fit_intercept = -2.57
fit_x = [9.5, 16.0]
fit_label = "Y = 0,3498x + -2,6 (R\u00b2 = 0,3805)"

# axes
x_tick_values = [9.5, 10, 10.5, 11, 11.5, 12, 12.5, 13, 13.5, 14, 14.5, 15, 15.5, 16]
x_tick_labels = ["9,5", "10", "10,5", "11", "11,5", "12", "12,5", "13", "13,5", "14", "14,5", "15", "15,5", "16"]
y_tick_values = [0, 0.5, 1, 1.5, 2, 2.5, 3, 3.5, 4, 4.5, 5, 5.5, 6, 6.5]
y_tick_labels = ["0", "0,5", "1", "1,5", "2", "2,5", "3", "3,5", "4", "4,5", "5", "5,5", "6", "6,5"]

# ---------------- build ----------------
sx, sy = [], []
for cols in (cloud_dense, cloud_dense_2, cloud_cols_10_13, cloud_cols_10_11b, cloud_cols_13_16):
    for cx, ylist in cols.items():
        for yy in ylist:
            sx.append(cx)
            sy.append(yy)
for group in (cloud_10_11, cloud_11_13, cloud_13_16, cloud_high_left, cloud_high_right):
    for xx, yy in group:
        sx.append(xx)
        sy.append(yy)

FONT = "Open Sans"

p = figure(width=1104, height=685,
           x_range=Range1d(9.3434, 16.17), y_range=Range1d(-0.349, 6.587),
           output_backend="svg", toolbar_location=None,
           min_border_left=54, min_border_right=3, min_border_top=28, min_border_bottom=46,
           title="LOEWE vs. EntryTime")

p.title.align = "center"
p.title.text_font = FONT
p.title.text_font_size = "15.5px"
p.title.text_font_style = "bold"
p.title.text_color = "black"
p.title.standoff = 2

p.background_fill_color = "white"
p.border_fill_color = "white"
p.outline_line_color = "black"
p.outline_line_width = 1.5

minor_x = [round(9.4 + 0.1 * i, 2) for i in range(68)]
minor_y = [round(-0.3 + 0.1 * i, 2) for i in range(69)]
p.xaxis.ticker = FixedTicker(ticks=x_tick_values, minor_ticks=minor_x)
p.yaxis.ticker = FixedTicker(ticks=y_tick_values, minor_ticks=minor_y)
p.xaxis.major_label_overrides = {v: l for v, l in zip(x_tick_values, x_tick_labels)}
p.yaxis.major_label_overrides = {v: l for v, l in zip(y_tick_values, y_tick_labels)}

for ax in (p.xaxis[0], p.yaxis[0]):
    ax.axis_line_color = "black"
    ax.major_tick_line_color = "black"
    ax.minor_tick_line_color = "black"
    ax.major_tick_in = 0
    ax.major_tick_out = 5
    ax.minor_tick_in = 0
    ax.minor_tick_out = 3
    ax.major_label_text_font = FONT
    ax.major_label_text_font_size = "11px"
    ax.major_label_text_color = "#222222"
    ax.axis_label_text_font = FONT
    ax.axis_label_text_font_size = "15.5px"
    ax.axis_label_text_font_style = "normal"
    ax.axis_label_text_color = "#222222"

p.xaxis.axis_label = "Entry Time (Hours)"
p.yaxis.axis_label = "LOEWE"
p.xaxis.major_label_standoff = 3
p.yaxis.major_label_standoff = 4
p.xaxis.axis_label_standoff = 0
p.yaxis.axis_label_standoff = 0

p.xgrid.ticker = FixedTicker(ticks=x_tick_values)
p.ygrid.ticker = FixedTicker(ticks=y_tick_values)
p.xgrid.grid_line_color = "#ebebeb"
p.ygrid.grid_line_color = "#ebebeb"

p.scatter(sx, sy, size=4, fill_color="#1f77b4", line_color=None)

fit_y = [fit_slope * v + fit_intercept for v in fit_x]
p.line(fit_x, fit_y, line_color="#808080", line_width=2)
p.line(ma_x, ma_y, line_color="#8b0000", line_width=2)

shadow = Label(x=16.137, y=-0.318, text=fit_label, text_align="right", text_baseline="bottom",
               text_font=FONT, text_font_size="12px", text_alpha=0.0,
               background_fill_color="#d8d8d8", x_offset=4, y_offset=-4, padding=2)
p.add_layout(shadow)
box = Label(x=16.137, y=-0.318, text=fit_label, text_align="right", text_baseline="bottom",
            text_font=FONT, text_font_size="12px", text_color="black",
            background_fill_color="#ffff00", border_line_color="#3a3a3a", border_line_width=1.5,
            padding=2)
p.add_layout(box)

open("out.html", "w").write(file_html(p, INLINE))
